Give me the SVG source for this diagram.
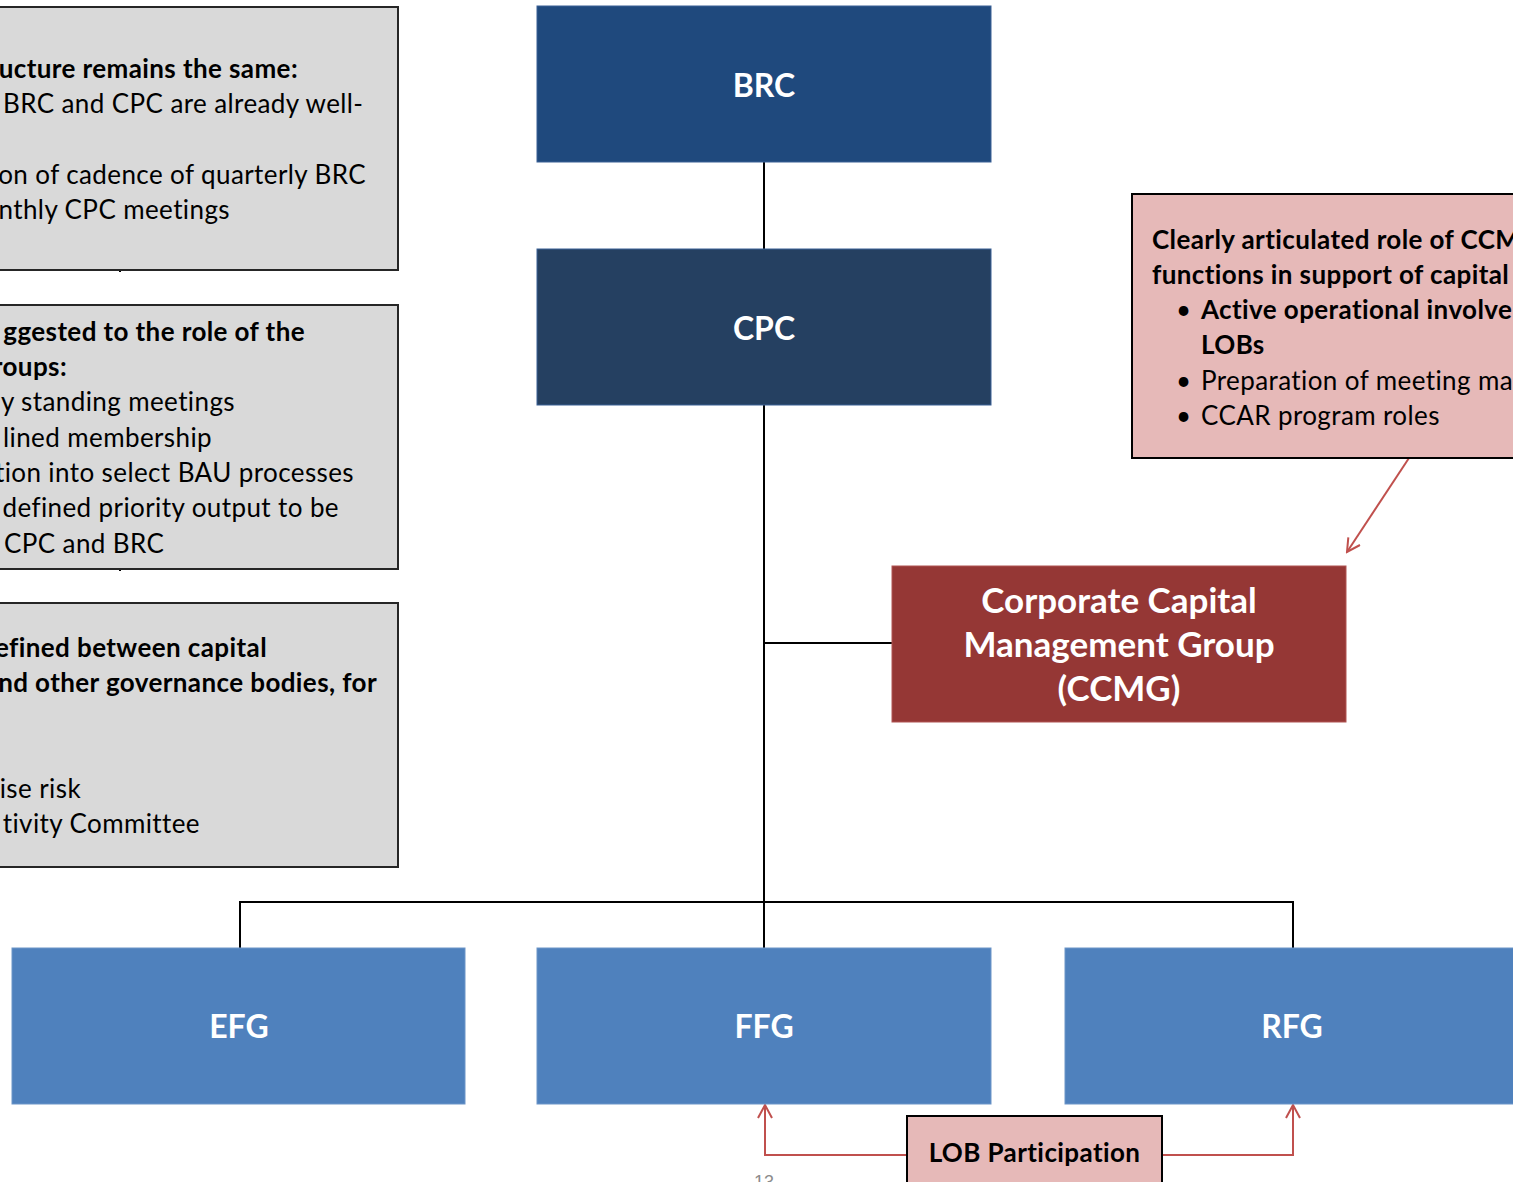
<svg xmlns="http://www.w3.org/2000/svg" width="1513" height="1182" viewBox="0 0 1513 1182">
  <style>
    .note { fill: #D9D9D9; stroke: #262626; stroke-width: 2; }
    .pink { fill: #E6B9B8; stroke: #000; stroke-width: 2; }
    .txt { font-family: Lato, "Open Sans", "Liberation Sans", sans-serif; font-size: 26px; letter-spacing: 0.4px; fill: #000; }
    .b { font-weight: bold; }
    .title { font-family: Lato, "Open Sans", "Liberation Sans", sans-serif; font-weight: bold; fill: #fff; text-anchor: middle; }
    .conn { stroke: #000; stroke-width: 2; fill: none; }
    .red { stroke: #C0504D; stroke-width: 2; fill: none; }
  </style>
  <defs>
    <marker id="openArrow" markerWidth="16" markerHeight="16" refX="14" refY="8" orient="auto" markerUnits="userSpaceOnUse">
      <path d="M1,1 L14,8 L1,15" fill="none" stroke="#C0504D" stroke-width="2"/>
    </marker>
  </defs>
  <rect width="1513" height="1182" fill="#fff"/>

  <!-- connectors -->
  <g id="connectors">
    <line class="conn" x1="764" y1="162" x2="764" y2="249"/>
    <line class="conn" x1="764" y1="405" x2="764" y2="948"/>
    <line class="conn" x1="764" y1="643" x2="892" y2="643"/>
    <polyline class="conn" points="240,948 240,902 1293,902 1293,948"/>
    <line class="conn" x1="120" y1="270" x2="120" y2="272"/>
    <line class="conn" x1="120" y1="569" x2="120" y2="571"/>
    <line class="red" x1="1409" y1="458" x2="1347" y2="552" marker-end="url(#openArrow)"/>
    <polyline class="red" points="907,1155 765,1155 765,1105" marker-end="url(#openArrow)"/>
    <polyline class="red" points="1162,1155 1293,1155 1293,1105" marker-end="url(#openArrow)"/>
  </g>

  <!-- left side notes (run off the left edge) -->
  <g id="note-structure">
    <rect class="note" x="-20" y="7" width="418" height="263"/>
    <text class="txt b" x="298" y="78" text-anchor="end">ucture remains the same:</text>
    <text class="txt" x="3" y="113">BRC and CPC are already well-</text>
    <text class="txt" x="366" y="184" text-anchor="end">on of cadence of quarterly BRC</text>
    <text class="txt" x="230" y="219" text-anchor="end">nthly CPC meetings</text>
  </g>
  <g id="note-groups">
    <rect class="note" x="-20" y="305" width="418" height="264"/>
    <text class="txt b" x="305" y="341" text-anchor="end">ggested to the role of the</text>
    <text class="txt b" x="67" y="376" text-anchor="end">roups:</text>
    <text class="txt" x="235" y="411" text-anchor="end">y standing meetings</text>
    <text class="txt" x="212" y="447" text-anchor="end">lined membership</text>
    <text class="txt" x="354" y="482" text-anchor="end">tion into select BAU processes</text>
    <text class="txt" x="339" y="517" text-anchor="end">defined priority output to be</text>
    <text class="txt" x="4" y="553">CPC and BRC</text>
  </g>
  <g id="note-governance">
    <rect class="note" x="-20" y="603" width="418" height="264"/>
    <text class="txt b" x="267" y="657" text-anchor="end">efined between capital</text>
    <text class="txt b" x="377" y="692" text-anchor="end">nd other governance bodies, for</text>
    <text class="txt" x="81" y="798" text-anchor="end">ise risk</text>
    <text class="txt" x="200" y="833" text-anchor="end">tivity Committee</text>
  </g>

  <!-- committee hierarchy -->
  <g id="node-brc">
    <rect x="537" y="6" width="454" height="156" fill="#1F497D" stroke="#3A6096" stroke-width="1"/>
    <text class="title" x="764" y="97" font-size="32">BRC</text>
  </g>
  <g id="node-cpc">
    <rect x="537" y="249" width="454" height="156" fill="#254061" stroke="#3A6096" stroke-width="1"/>
    <text class="title" x="764" y="340" font-size="32">CPC</text>
  </g>
  <g id="node-ccmg">
    <rect x="892" y="566" width="454" height="156" fill="#953735" stroke="#B05553" stroke-width="1"/>
    <text class="title" x="1119" y="613" font-size="35">Corporate Capital</text>
    <text class="title" x="1119" y="657" font-size="35">Management Group</text>
    <text class="title" x="1119" y="701" font-size="35">(CCMG)</text>
  </g>
  <g id="node-efg">
    <rect x="12" y="948" width="453" height="156" fill="#4F81BD" stroke="#6C95C8" stroke-width="1"/>
    <text class="title" x="239" y="1038" font-size="32">EFG</text>
  </g>
  <g id="node-ffg">
    <rect x="537" y="948" width="454" height="156" fill="#4F81BD" stroke="#6C95C8" stroke-width="1"/>
    <text class="title" x="764" y="1038" font-size="32">FFG</text>
  </g>
  <g id="node-rfg">
    <rect x="1065" y="948" width="470" height="156" fill="#4F81BD" stroke="#6C95C8" stroke-width="1"/>
    <text class="title" x="1292" y="1038" font-size="32">RFG</text>
  </g>

  <!-- CCMG role callout (runs off the right edge) -->
  <g id="note-ccmg-role">
    <rect class="pink" x="1132" y="194" width="400" height="264"/>
    <text class="txt b" x="1152" y="249">Clearly articulated role of CCM</text>
    <text class="txt b" x="1152" y="284">functions in support of capital</text>
    <text class="txt" x="1176" y="319">•</text>
    <text class="txt b" x="1201" y="319">Active operational involve</text>
    <text class="txt b" x="1201" y="354">LOBs</text>
    <text class="txt" x="1176" y="390">•</text>
    <text class="txt" x="1201" y="390">Preparation of meeting ma</text>
    <text class="txt" x="1176" y="425">•</text>
    <text class="txt" x="1201" y="425">CCAR program roles</text>
  </g>

  <!-- LOB participation -->
  <g id="node-lob">
    <rect class="pink" x="907" y="1116" width="255" height="90"/>
    <text class="txt b" x="1034.5" y="1162" text-anchor="middle">LOB Participation</text>
  </g>

  <!-- page number -->
  <text x="764" y="1188" font-family="'Liberation Sans', Arial, sans-serif" font-size="18" fill="#8C8C8C" text-anchor="middle">13</text>
</svg>
